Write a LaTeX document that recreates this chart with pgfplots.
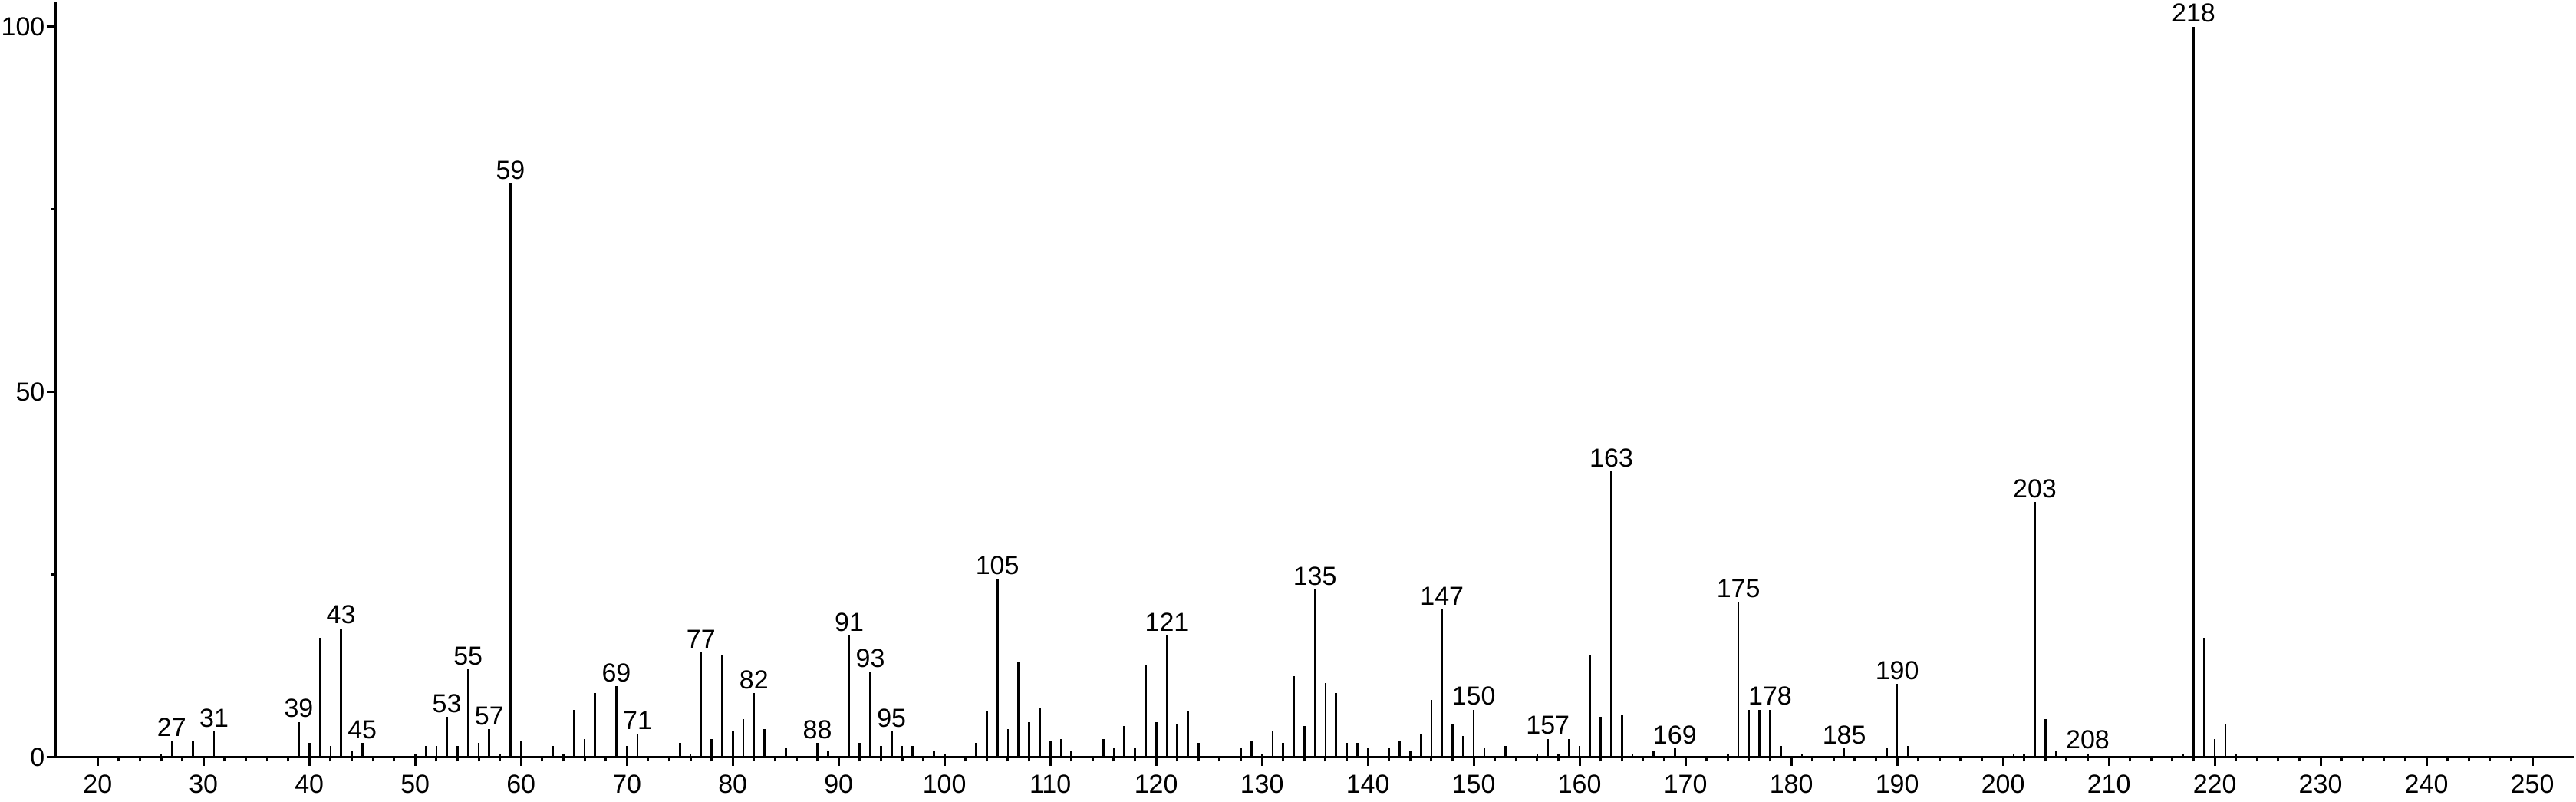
\documentclass[border=0pt]{standalone}
\usepackage{fontspec}
\setmainfont{Liberation Sans}
\usepackage{pgfplots}
\pgfplotsset{compat=1.18}
\begin{document}
\begin{tikzpicture}
\begin{axis}[
  scale only axis, width=985.2pt, height=295.2pt,
  xmin=16, xmax=254, ymin=0, ymax=103.4,
  axis x line=bottom, axis y line=left,
  axis line style={-, line width=1.05pt},
  xtick={20,30,...,250}, minor x tick num=4,
  ytick={0,50,100}, minor ytick={25,75},
  tick align=outside,
  major tick length=3.4pt, minor tick length=1.8pt,
  tick style={line width=0.9pt, black},
  tick label style={font=\fontsize{10.2}{12}\selectfont},
  /pgf/number format/assume math mode=true,
  yticklabel style={inner sep=0.5pt},
  clip=false,
]
\addplot[ycomb, line width=0.8pt, black, mark=none] table {
x y
26 0.5
27 2.2
29 2.2
31 3.5
39 4.8
40 1.9
41 16.3
42 1.5
43 17.6
44 0.9
45 1.9
50 0.5
51 1.5
52 1.5
53 5.5
54 1.5
55 12.0
56 1.9
57 3.8
58 0.5
59 78.5
60 2.2
63 1.5
64 0.5
65 6.5
66 2.5
67 8.75
69 9.7
70 1.5
71 3.2
75 1.9
76 0.5
77 14.3
78 2.5
79 14.0
80 3.5
81 5.2
82 8.75
83 3.85
85 1.2
88 1.9
89 0.9
91 16.6
92 1.9
93 11.7
94 1.5
95 3.5
96 1.5
97 1.5
99 0.9
100 0.5
103 1.9
104 6.2
105 24.4
106 3.85
107 13.0
108 4.8
109 6.8
110 2.2
111 2.5
112 0.9
115 2.5
116 1.2
117 4.2
118 1.2
119 12.7
120 4.8
121 16.6
122 4.5
123 6.2
124 1.9
128 1.2
129 2.2
130 0.5
131 3.5
132 1.9
133 11.1
134 4.2
135 22.9
136 10.1
137 8.75
138 1.9
139 1.9
140 1.2
142 1.2
143 2.2
144 0.9
145 3.2
146 7.8
147 20.2
148 4.5
149 2.9
150 6.5
151 1.2
153 1.5
156 0.5
157 2.5
158 0.5
159 2.5
160 1.5
161 14.0
162 5.5
163 39.1
164 5.8
165 0.5
167 0.9
169 1.2
174 0.5
175 21.2
176 6.5
177 6.5
178 6.5
179 1.5
181 0.5
185 1.2
189 1.2
190 10.0
191 1.5
201 0.5
202 0.5
203 34.9
204 5.2
205 0.9
208 0.5
217 0.5
218 100
219 16.3
220 2.5
221 4.5
222 0.5
};
\addplot[draw=none, mark=none, nodes near coords, point meta=explicit symbolic,
  every node near coord/.style={anchor=south, inner sep=1.5pt, font=\fontsize{10.2}{12}\selectfont, black}]
coordinates {
(27,2.2)[27] (31,3.5)[31] (39,4.8)[39] (43,17.6)[43] (45,1.9)[45]
(53,5.5)[53] (55,12.0)[55] (57,3.8)[57] (59,78.5)[59]
(69,9.7)[69] (71,3.2)[71] (77,14.3)[77] (82,8.75)[82] (88,1.9)[88]
(91,16.6)[91] (93,11.7)[93] (95,3.5)[95] (105,24.4)[105] (121,16.6)[121]
(135,22.9)[135] (147,20.2)[147] (150,6.5)[150] (157,2.5)[157]
(163,39.1)[163] (169,1.2)[169] (175,21.2)[175] (178,6.5)[178]
(185,1.2)[185] (190,10.0)[190] (203,34.9)[203] (208,0.5)[208] (218,100)[218]
};
\end{axis}
\end{tikzpicture}
\end{document}
